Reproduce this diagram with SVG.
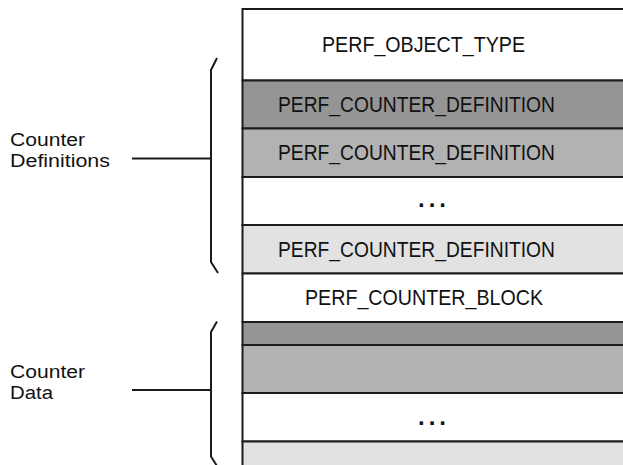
<svg xmlns="http://www.w3.org/2000/svg" width="623" height="465" viewBox="0 0 623 465">
  <style>
    .row { stroke: #1c1c1c; stroke-width: 2; }
    .w { fill: #ffffff; }
    .dk { fill: #959595; }
    .md { fill: #b2b2b2; }
    .lt { fill: #e2e2e2; }
    .t { font-family: "Liberation Sans", Arial, sans-serif; font-size: 22.5px; fill: #111111; }
    .lbl { font-family: "Liberation Sans", Arial, sans-serif; font-size: 18px; fill: #111111; }
    .dots { font-family: "Liberation Sans", Arial, sans-serif; font-size: 24px; font-weight: bold; fill: #111111; letter-spacing: 4px; }
    .br { fill: none; stroke: #1c1c1c; stroke-width: 2; }
  </style>
  <rect x="0" y="0" width="623" height="465" fill="#ffffff"/>

  <g id="perf_object_type">
    <rect class="row w" x="242.5" y="9" width="420" height="71.5"/>
    <text class="t" x="322" y="52" textLength="203" lengthAdjust="spacingAndGlyphs">PERF_OBJECT_TYPE</text>
  </g>
  <g id="counter_def_1">
    <rect class="row dk" x="242.5" y="80.5" width="420" height="48"/>
    <text class="t" x="278" y="112" textLength="277" lengthAdjust="spacingAndGlyphs">PERF_COUNTER_DEFINITION</text>
  </g>
  <g id="counter_def_2">
    <rect class="row md" x="242.5" y="128.5" width="420" height="48.5"/>
    <text class="t" x="278" y="160" textLength="277" lengthAdjust="spacingAndGlyphs">PERF_COUNTER_DEFINITION</text>
  </g>
  <g id="counter_def_ellipsis">
    <rect class="row w" x="242.5" y="177" width="420" height="48"/>
    <text class="dots" x="418" y="207">...</text>
  </g>
  <g id="counter_def_n">
    <rect class="row lt" x="242.5" y="225" width="420" height="48.5"/>
    <text class="t" x="278" y="257" textLength="277" lengthAdjust="spacingAndGlyphs">PERF_COUNTER_DEFINITION</text>
  </g>
  <g id="perf_counter_block">
    <rect class="row w" x="242.5" y="273.5" width="420" height="48.5"/>
    <text class="t" x="305" y="305" textLength="238" lengthAdjust="spacingAndGlyphs">PERF_COUNTER_BLOCK</text>
  </g>
  <g id="counter_data_1">
    <rect class="row dk" x="242.5" y="322" width="420" height="23"/>
  </g>
  <g id="counter_data_2">
    <rect class="row md" x="242.5" y="345" width="420" height="48"/>
  </g>
  <g id="counter_data_ellipsis">
    <rect class="row w" x="242.5" y="393" width="420" height="48.5"/>
    <text class="dots" x="418" y="425">...</text>
  </g>
  <g id="counter_data_n">
    <rect class="row lt" x="242.5" y="441.5" width="420" height="60"/>
  </g>

  <g id="label_counter_definitions">
    <text class="lbl" x="10" y="146" textLength="75" lengthAdjust="spacingAndGlyphs">Counter</text>
    <text class="lbl" x="10" y="167" textLength="100" lengthAdjust="spacingAndGlyphs">Definitions</text>
  </g>
  <g id="label_counter_data">
    <text class="lbl" x="10" y="378" textLength="75" lengthAdjust="spacingAndGlyphs">Counter</text>
    <text class="lbl" x="10" y="399" textLength="43" lengthAdjust="spacingAndGlyphs">Data</text>
  </g>

  <g id="connectors">
    <path class="br" d="M217 58 L211 70 L211 262 L218 273"/>
    <line class="br" x1="132" y1="158.5" x2="211" y2="158.5"/>
    <path class="br" d="M217 321.5 L211 332 L211 456.5 L217 466"/>
    <line class="br" x1="132" y1="390" x2="211" y2="390"/>
  </g>
</svg>
